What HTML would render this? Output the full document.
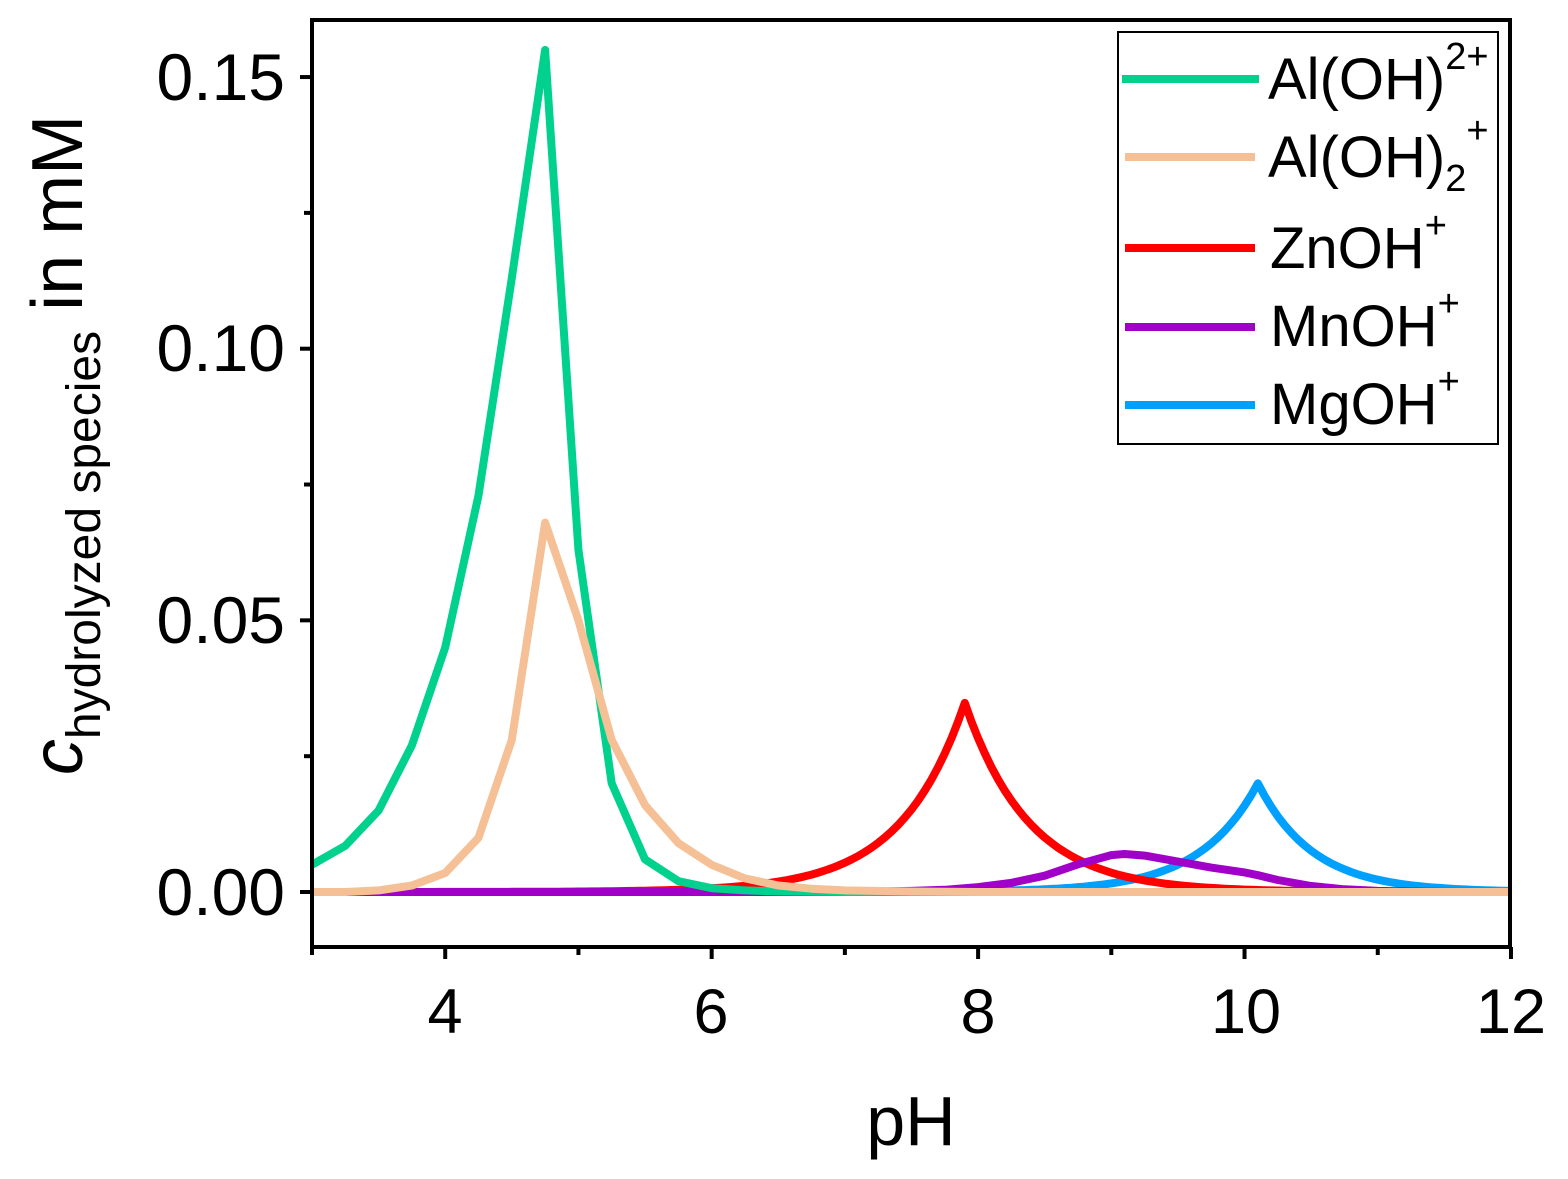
<!DOCTYPE html>
<html><head><meta charset="utf-8"><style>
html,body{margin:0;padding:0;background:#fff;}
svg text{font-family:"Liberation Sans",sans-serif;fill:#000;}
</style></head><body>
<svg id="s" width="1568" height="1174" xmlns="http://www.w3.org/2000/svg">
<defs><clipPath id="c"><rect x="314" y="20" width="1195" height="925"/></clipPath></defs>
<g id="curves" clip-path="url(#c)" fill="none" stroke-width="8" stroke-linejoin="round"></g>
<rect x="312" y="20" width="1198" height="927" fill="none" stroke="#000" stroke-width="4"/>
<g id="ticks" stroke="#000" stroke-width="4"></g>
<g font-size="66" text-anchor="end">
<text x="285" y="915">0.00</text>
<text x="285" y="643">0.05</text>
<text x="285" y="371">0.10</text>
<text x="285" y="100">0.15</text>
</g>
<g font-size="63" text-anchor="middle">
<text x="445" y="1033">4</text>
<text x="711" y="1033">6</text>
<text x="978" y="1033">8</text>
<text x="1246" y="1033">10</text>
<text x="1511" y="1033">12</text>
</g>
<text x="911" y="1145" font-size="70" text-anchor="middle">pH</text>
<text transform="translate(82,445) rotate(-90)" font-size="72" text-anchor="middle"><tspan font-style="italic">c</tspan><tspan font-size="48" dy="18">hydrolyzed species</tspan><tspan dy="-18"> in mM</tspan></text>
<rect x="1118" y="32" width="380" height="412" fill="#fff" stroke="#000" stroke-width="2"/>
<g stroke-width="8">
<line x1="1122" y1="79" x2="1259" y2="79" stroke="#00d18c"/>
<line x1="1125" y1="157" x2="1255" y2="157" stroke="#f6c096"/>
<line x1="1125" y1="248" x2="1255" y2="248" stroke="#ff0000"/>
<line x1="1125" y1="327" x2="1255" y2="327" stroke="#a000c8"/>
<line x1="1125" y1="405" x2="1255" y2="405" stroke="#00a0ff"/>
</g>
<g font-size="58">
<text x="1268" y="99">Al(OH)<tspan font-size="38" dy="-30">2+</tspan></text>
<text x="1268" y="177">Al(OH)<tspan font-size="38" dy="14">2</tspan><tspan font-size="38" dy="-48">+</tspan></text>
<text x="1270" y="268">ZnOH<tspan font-size="38" dy="-30">+</tspan></text>
<text x="1270" y="346">MnOH<tspan font-size="38" dy="-30">+</tspan></text>
<text x="1270" y="424">MgOH<tspan font-size="38" dy="-30">+</tspan></text>
</g>
</svg>
<script>
var X=function(p){return 312+(p-3)*133.22;}, Y=function(v){return 892-v*5433;};
function poly(pts,col){var d=pts.map(function(p){return X(p[0]).toFixed(1)+','+Y(p[1]).toFixed(1)}).join(' ');
var e=document.createElementNS('http://www.w3.org/2000/svg','polyline');e.setAttribute('points',d);e.setAttribute('stroke',col);document.getElementById('curves').appendChild(e);}
function fn(f,a,b,st){var r=[];for(var p=a;p<=b+1e-9;p+=st)r.push([p,f(p)]);return r;}
var g=[[3,0.005],[3.25,0.0085],[3.5,0.015],[3.75,0.027],[4,0.045],[4.25,0.073],[4.5,0.113],[4.75,0.155],[5,0.063],[5.25,0.02],[5.5,0.006],[5.75,0.002],[6,0.0007],[6.25,0.0003],[6.5,0.0001],[7,0],[12,0]];
var o=[[3,0],[3.25,0],[3.5,0.0003],[3.75,0.0012],[4,0.0035],[4.25,0.010],[4.5,0.028],[4.75,0.068],[5,0.05],[5.25,0.028],[5.5,0.016],[5.75,0.009],[6,0.005],[6.25,0.0025],[6.5,0.0012],[6.75,0.0006],[7,0.0003],[7.5,0.0001],[8,0],[12,0]];
var red=fn(function(p){return 0.0348*Math.pow(10,-0.9*Math.abs(p-7.9));},3,12,0.05);
var mn=[[3,0],[7,0],[7.5,0.0002],[7.75,0.0004],[8,0.0009],[8.25,0.0017],[8.5,0.003],[8.75,0.0051],[9,0.0068],[9.1,0.007],[9.25,0.0067],[9.5,0.0056],[9.75,0.0045],[10,0.0036],[10.1,0.0031],[10.25,0.0022],[10.5,0.0011],[10.75,0.0005],[11,0.0002],[11.5,0],[12,0]];
var mg=fn(function(p){return 0.020*Math.pow(10,-(p<10.1?1.0:1.05)*Math.abs(p-10.1));},3,12,0.05);
poly(mg,'#00a0ff');poly(red,'#ff0000');poly(mn,'#a000c8');poly(g,'#00d18c');poly(o,'#f6c096');
var t=document.getElementById('ticks'),h='';
for(var p=3;p<=12;p++){var L=(p%2==0)?12:8;h+='<line x1="'+X(p)+'" y1="947" x2="'+X(p)+'" y2="'+(947+L)+'"/>';}
for(var i=0;i<=6;i++){var v=i*0.025,L=(i%2==0)?12:8;h+='<line x1="312" y1="'+Y(v)+'" x2="'+(312-L)+'" y2="'+Y(v)+'"/>';}
t.innerHTML=h;
</script>
</body></html>
